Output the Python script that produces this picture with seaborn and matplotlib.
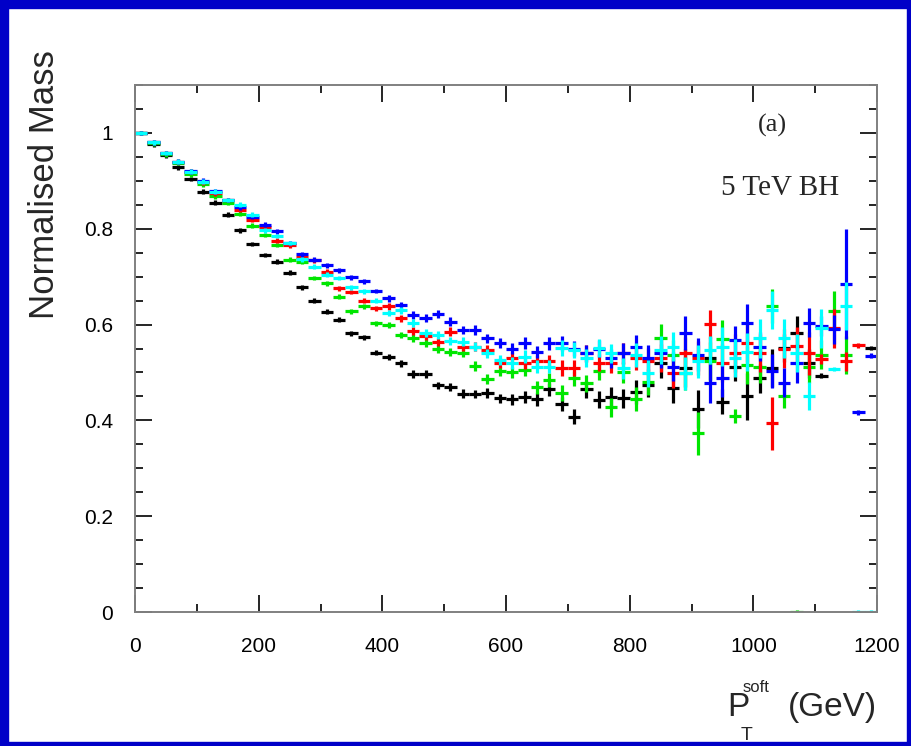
import numpy as np
import pandas as pd
import seaborn as sns
import matplotlib.pyplot as plt
from matplotlib.patches import Rectangle
from matplotlib.ticker import MultipleLocator

nan = np.nan

# bin centres of the soft-pT histogram (20 GeV bins)
pt_bins = np.arange(10, 1200, 20)

mass_black = [1.000, 0.976, 0.953, 0.928, 0.904, 0.877, 0.854, 0.829, 0.797, 0.768,
              0.745, 0.731, 0.708, 0.678, 0.650, 0.627, 0.610, 0.582, 0.573, 0.541,
              0.532, 0.519, 0.497, 0.497, 0.473, 0.470, 0.456, 0.455, 0.457, 0.446,
              0.444, 0.449, 0.444, 0.465, 0.434, 0.408, 0.465, 0.443, 0.449, 0.446,
              0.460, 0.474, 0.519, 0.467, 0.509, 0.424, 0.530, 0.439, 0.512, 0.450,
              0.488, 0.510, 0.551, 0.583, 0.519, 0.493, nan, nan, nan, 0.551]
mass_green = [1.000, 0.978, 0.955, 0.938, 0.914, 0.893, 0.868, 0.854, 0.831, 0.806,
              0.787, 0.766, 0.735, 0.731, 0.697, 0.686, 0.658, 0.628, 0.638, 0.603,
              0.599, 0.578, 0.572, 0.561, 0.549, 0.543, 0.541, 0.513, 0.486, 0.502,
              0.500, 0.505, 0.469, 0.484, 0.457, 0.488, 0.477, 0.502, 0.427, 0.500,
              0.445, 0.480, 0.571, 0.537, 0.498, 0.373, 0.523, 0.569, 0.409, 0.516,
              0.512, 0.639, 0.451, 0.000, 0.512, 0.537, 0.629, 0.537, nan, nan]
mass_red = [1.000, 0.980, 0.958, 0.940, 0.919, 0.897, 0.874, 0.860, 0.839, 0.818,
            0.804, 0.775, 0.765, 0.740, 0.734, 0.710, 0.676, 0.668, 0.650, 0.634,
            0.638, 0.613, 0.586, 0.576, 0.564, 0.585, 0.554, 0.554, 0.547, 0.520,
            0.530, 0.520, 0.523, 0.523, 0.509, 0.509, 0.540, 0.520, 0.519, 0.540,
            0.530, 0.523, 0.530, 0.498, 0.540, 0.530, 0.601, 0.520, 0.540, 0.561,
            0.540, 0.394, 0.550, 0.555, 0.540, 0.528, 0.592, 0.523, 0.557, nan]
mass_cyan = [1.000, 0.980, 0.958, 0.940, 0.919, 0.898, 0.877, 0.860, 0.850, 0.829,
             0.797, 0.785, 0.770, 0.736, 0.721, 0.704, 0.697, 0.678, 0.669, 0.650,
             0.624, 0.630, 0.603, 0.582, 0.578, 0.566, 0.564, 0.554, 0.540, 0.526,
             0.520, 0.533, 0.512, 0.512, 0.551, 0.547, 0.530, 0.551, 0.540, 0.509,
             0.537, 0.498, 0.547, 0.554, 0.498, 0.523, 0.547, 0.554, 0.530, 0.543,
             0.571, 0.630, 0.571, 0.540, 0.451, 0.592, 0.507, 0.639, 0.000, 0.000]
mass_blue = [1.000, 0.980, 0.958, 0.940, 0.920, 0.900, 0.878, 0.860, 0.845, 0.825,
             0.808, 0.795, 0.770, 0.747, 0.735, 0.724, 0.713, 0.699, 0.690, 0.670,
             0.655, 0.640, 0.620, 0.613, 0.622, 0.606, 0.589, 0.589, 0.571, 0.562,
             0.550, 0.561, 0.543, 0.561, 0.561, 0.550, 0.540, 0.550, 0.530, 0.540,
             0.554, 0.530, 0.540, 0.512, 0.582, 0.537, 0.477, 0.488, 0.567, 0.603,
             0.554, 0.503, 0.479, 0.519, 0.604, 0.597, 0.590, 0.685, 0.417, 0.535]

err_black = [0.004] * 10 + [0.005] * 10 + \
    [0.007, 0.007, 0.008, 0.008, 0.008, 0.009, 0.009, 0.009, 0.010, 0.010,
     0.012, 0.012, 0.013, 0.014, 0.015, 0.016, 0.018, 0.018, 0.020, 0.020,
     0.025, 0.025, 0.030, 0.030, 0.040, 0.040, 0.045, 0.026, 0.030, 0.049,
     0.030, 0.040, 0.030, 0.035, 0.030, 0.005, 0.0, 0.0, 0.0, 0.005]
err_green = [0.004] * 10 + [0.005] * 10 + \
    [0.007, 0.007, 0.008, 0.008, 0.008, 0.009, 0.009, 0.010, 0.010, 0.010,
     0.012, 0.013, 0.013, 0.014, 0.016, 0.016, 0.018, 0.018, 0.020, 0.022,
     0.025, 0.028, 0.030, 0.030, 0.035, 0.045, 0.040, 0.040, 0.015, 0.040,
     0.035, 0.035, 0.025, 0.0, 0.035, 0.030, 0.040, 0.040, 0.0, 0.0]
err_red = [0.004] * 10 + [0.005] * 10 + \
    [0.007, 0.007, 0.008, 0.008, 0.008, 0.009, 0.009, 0.010, 0.010, 0.010,
     0.012, 0.013, 0.013, 0.014, 0.016, 0.016, 0.018, 0.018, 0.020, 0.022,
     0.025, 0.028, 0.030, 0.030, 0.035, 0.035, 0.030, 0.040, 0.040, 0.040,
     0.040, 0.055, 0.040, 0.040, 0.045, 0.010, 0.040, 0.020, 0.004, 0.0]
err_cyan = [0.004] * 10 + [0.005] * 10 + \
    [0.007, 0.007, 0.008, 0.008, 0.008, 0.009, 0.009, 0.010, 0.010, 0.010,
     0.012, 0.013, 0.013, 0.014, 0.016, 0.016, 0.018, 0.018, 0.020, 0.022,
     0.025, 0.028, 0.030, 0.030, 0.035, 0.035, 0.030, 0.040, 0.040, 0.040,
     0.040, 0.040, 0.040, 0.040, 0.030, 0.040, 0.005, 0.050, 0.0, 0.0]
err_blue = [0.004] * 10 + [0.005] * 10 + \
    [0.007, 0.007, 0.008, 0.008, 0.008, 0.009, 0.009, 0.010, 0.010, 0.010,
     0.012, 0.013, 0.013, 0.014, 0.016, 0.016, 0.018, 0.018, 0.020, 0.022,
     0.025, 0.028, 0.030, 0.030, 0.035, 0.035, 0.040, 0.040, 0.030, 0.040,
     0.030, 0.035, 0.030, 0.040, 0.030, 0.020, 0.030, 0.115, 0.004, 0.004]

series = [
    ("black", mass_black, err_black),
    ("#00e600", mass_green, err_green),
    ("#ff0000", mass_red, err_red),
    ("#0000ff", mass_blue, err_blue),
    ("#00ffff", mass_cyan, err_cyan),
]

W, H = 912, 746
sns.set_theme(style="ticks")
plt.rcParams["font.family"] = ["Liberation Sans", "DejaVu Sans"]

fig = plt.figure(figsize=(W / 100, H / 100), dpi=100, facecolor="white")

# dark blue frame round the page
frame = "#0000c8"
for (x0, y0, w, h) in [(0, 0, 8, H), (W - 5, 0, 5, H), (0, 0, W, 8), (0, H - 4, W, 4)]:
    fig.patches.append(Rectangle((x0 / W, 1 - (y0 + h) / H), w / W, h / H,
                                 transform=fig.transFigure, color=frame, zorder=0))

ax = fig.add_axes([135 / W, 1 - 612 / H, (877 - 135) / W, (612 - 85) / H])

frames = []
for colour, m, e in series:
    frames.append(pd.DataFrame({"pt": pt_bins, "mass": m, "err": e, "colour": colour}))
data = pd.concat(frames, ignore_index=True)

for colour, grp in data.groupby("colour", sort=False):
    grp = grp.dropna(subset=["mass"])
    ax.errorbar(grp["pt"], grp["mass"], yerr=np.maximum(grp["err"], 0.005), xerr=10,
                fmt="none", ecolor=colour, elinewidth=2.3, capsize=0)

ax.set_xlim(0, 1200)
ax.set_ylim(0, 1.1)
ax.xaxis.set_major_locator(MultipleLocator(200))
ax.xaxis.set_minor_locator(MultipleLocator(100))
ax.yaxis.set_major_locator(MultipleLocator(0.2))
ax.yaxis.set_minor_locator(MultipleLocator(0.05))
ax.yaxis.set_major_formatter(plt.FuncFormatter(
    lambda v, _: "0" if abs(v) < 1e-9 else ("1" if abs(v - 1) < 1e-9 else f"{v:.1f}")))
ax.tick_params(which="both", direction="in", top=True, right=True, colors="black",
               labelsize=15, width=1.2)
ax.tick_params(which="major", length=12)
ax.tick_params(which="minor", length=6)
ax.tick_params(axis="x", pad=18)
ax.tick_params(axis="y", pad=16)
for s in ax.spines.values():
    s.set_color("#808080")
    s.set_linewidth(1.4)
ax.set_facecolor("white")


def px(x, y):
    return x / W, 1 - y / H


fig.text(*px(45, 185), "Normalised Mass", rotation=90, ha="center", va="center",
         fontsize=25)
fig.text(*px(727, 716), "P", ha="left", va="baseline", fontsize=24)
fig.text(*px(743, 692), "soft", ha="left", va="baseline", fontsize=12)
fig.text(*px(741, 740), "T", ha="left", va="baseline", fontsize=14)
fig.text(*px(788, 716), "(GeV)", ha="left", va="baseline", fontsize=24)

serif = ["Liberation Serif", "DejaVu Serif"]
fig.text(*px(772, 125), "(a)", ha="center", va="center", fontsize=19, family=serif)
fig.text(*px(780, 188), "5 TeV BH", ha="center", va="center", fontsize=21, family=serif)

fig.savefig("out.png", dpi=100, facecolor="white")
